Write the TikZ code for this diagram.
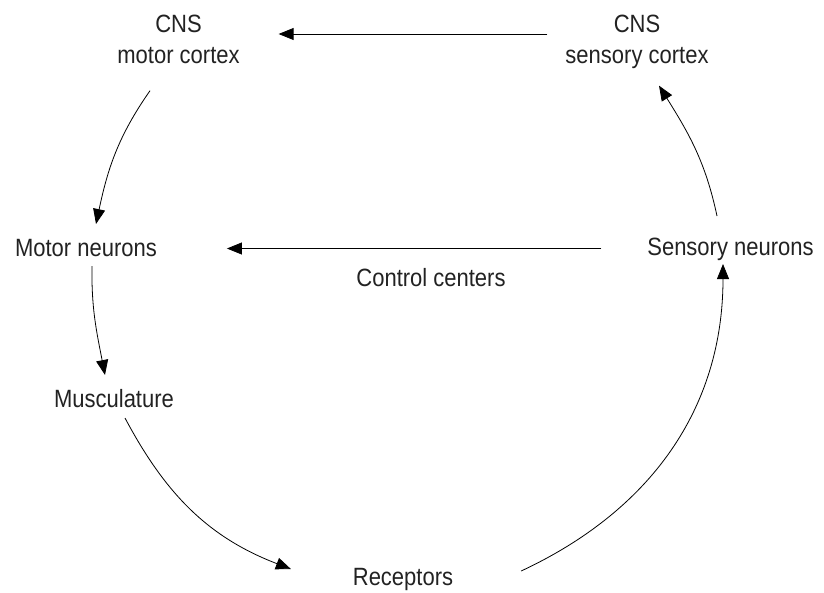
\documentclass[tikz,border=0pt]{standalone}
\usepackage{fontspec}
\setmainfont{Liberation Sans}[FakeStretch=0.88]
\usetikzlibrary{arrows.meta}
\definecolor{ink}{HTML}{222222}
\begin{document}
\begin{tikzpicture}[x=1pt,y=1pt,
  label/.style={inner sep=0pt, outer sep=0pt, text=ink,
    font=\fontsize{25}{31}\selectfont, text height=18pt, text depth=5pt, anchor=base},
  stack/.style={inner sep=0pt, outer sep=0pt, text=ink, align=center,
    font=\fontsize{25}{31}\selectfont, anchor=north},
  arr/.style={draw=black, line width=0.8pt, -{Triangle[length=15pt,width=12pt]}}]
\useasboundingbox (0,0) rectangle (824,-592);

% cortical centres (two-line labels)
\node[stack] (mc) at (178.5,-15) {CNS\\motor cortex};
\node[stack] (sc) at (637,-15) {CNS\\sensory cortex};

% lower stages of the loop
\node[label] (mn) at (86,-256) {Motor neurons};
\node[label] (sn) at (730.5,-255) {Sensory neurons};
\node[label] (cc) at (431,-286) {Control centers};
\node[label] (mu) at (114,-407) {Musculature};
\node[label] (re) at (403,-585) {Receptors};

% straight connections
\draw[arr] ([xshift=-18pt,yshift=-19pt]sc.north west) -- ([xshift=39pt,yshift=-19pt]mc.north east);
\draw[arr] ([xshift=-46pt]sn.west) -- ([xshift=70pt]mn.east |- sn.west);

% curved loop
\draw[arr] ([shift={(-28.5pt,-27pt)}]mc.south) to[out=-125,in=78] ([shift={(10pt,14pt)}]mn.north);
\draw[arr] ([shift={(6pt,-5pt)}]mn.south) to[out=-91,in=101] ([shift={(-9pt,14pt)}]mu.north);
\draw[arr] ([shift={(11pt,-6pt)}]mu.south) to[out=-62,in=159] ([shift={(-62pt,9.5pt)}]re.west);
\draw[arr] ([shift={(68pt,7.5pt)}]re.east) to[out=25,in=-90] ([shift={(-7.5pt,-4pt)}]sn.south);
\draw[arr] ([shift={(-13.5pt,21pt)}]sn.north) to[out=102,in=-58] ([shift={(22pt,-17pt)}]sc.south);
\end{tikzpicture}
\end{document}
